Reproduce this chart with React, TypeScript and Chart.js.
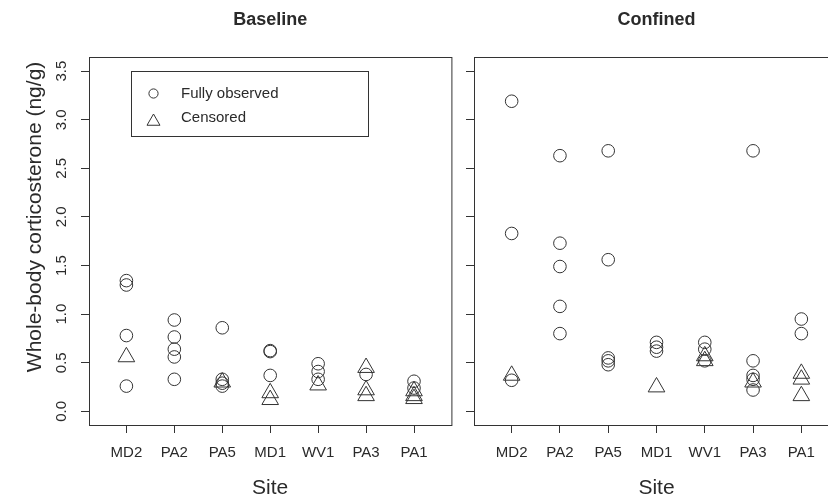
import React, { useEffect, useRef } from 'react';
import { Chart, registerables } from 'chart.js';

Chart.register(...registerables);

const FONT = '"Liberation Sans", Arial, Helvetica, sans-serif';
const INK = '#2a2a2a';
const LINE = '#333333';

const sites = ['MD2', 'PA2', 'PA5', 'MD1', 'WV1', 'PA3', 'PA1'];
const yTickValues = [0, 0.5, 1, 1.5, 2, 2.5, 3, 3.5];
const yAxisTitle = 'Whole-body corticosterone (ng/g)';
const xAxisTitle = 'Site';
const legendLabels = ['Fully observed', 'Censored'];

// Baseline panel values (per site, in order of `sites`)
const baselineObserved = [
  [1.345, 1.3, 0.78, 0.26],
  [0.94, 0.765, 0.64, 0.56, 0.33],
  [0.86, 0.33, 0.29, 0.26],
  [0.625, 0.615, 0.37],
  [0.49, 0.41, 0.33],
  [0.38],
  [0.31, 0.24],
];
const baselineCensored = [
  [0.56],
  [],
  [0.3],
  [0.19, 0.12],
  [0.27],
  [0.45, 0.22, 0.16],
  [0.21, 0.16, 0.13],
];

// Confined panel values
const confinedObserved = [
  [3.19, 1.83, 0.32],
  [2.63, 1.73, 1.49, 1.08, 0.8],
  [2.68, 1.56, 0.55, 0.52, 0.48],
  [0.71, 0.66, 0.62],
  [0.71, 0.64, 0.52],
  [2.68, 0.52, 0.37, 0.33, 0.22],
  [0.95, 0.8],
];
const confinedCensored = [
  [0.37],
  [],
  [],
  [0.25],
  [0.57, 0.52],
  [0.3],
  [0.39, 0.33, 0.16],
];

function toPoints(groups: number[][]) {
  const pts: { x: number; y: number }[] = [];
  groups.forEach((vals, i) => vals.forEach((v) => pts.push({ x: i + 1, y: v })));
  return pts;
}

const framePlugin = {
  id: 'frame',
  afterDatasetsDraw(chart: any) {
    const { ctx, chartArea: a } = chart;
    ctx.save();
    ctx.strokeStyle = LINE;
    ctx.lineWidth = 1;
    ctx.strokeRect(a.left + 0.5, a.top + 0.5, a.right - a.left, a.bottom - a.top);
    ctx.restore();
  },
};

const yLabelPlugin = {
  id: 'yLabels',
  afterDraw(chart: any, _args: any, opts: any) {
    if (!opts || !opts.show) return;
    const { ctx } = chart;
    const scale = chart.scales.y;
    ctx.save();
    ctx.fillStyle = INK;
    ctx.font = `15px ${FONT}`;
    ctx.textAlign = 'center';
    ctx.textBaseline = 'middle';
    for (const t of scale.ticks) {
      const y = scale.getPixelForValue(t.value);
      ctx.save();
      ctx.translate(opts.x, y);
      ctx.rotate(-Math.PI / 2);
      ctx.fillText(Number(t.value).toFixed(1), 0, 0);
      ctx.restore();
    }
    // axis title
    ctx.font = `21px ${FONT}`;
    ctx.save();
    ctx.translate(opts.titleX, scale.getPixelForValue(opts.titleAt));
    ctx.rotate(-Math.PI / 2);
    ctx.fillText(yAxisTitle, 0, 0);
    ctx.restore();
    ctx.restore();
  },
};

const legendBoxPlugin = {
  id: 'legendBox',
  afterDraw(chart: any, _args: any, opts: any) {
    if (!opts || !opts.show) return;
    const { ctx } = chart;
    ctx.save();
    ctx.strokeStyle = LINE;
    ctx.lineWidth = 1;
    ctx.strokeRect(131.5, 71.5, 237, 65);
    // circle symbol
    ctx.beginPath();
    ctx.arc(153.5, 93.5, 4.6, 0, Math.PI * 2);
    ctx.stroke();
    // triangle symbol
    const r = 7.5;
    const cx = 153.5;
    const cy = 121.5;
    ctx.beginPath();
    ctx.moveTo(cx, cy - r);
    ctx.lineTo(cx + r * Math.sin((2 * Math.PI) / 3), cy - r * Math.cos((2 * Math.PI) / 3));
    ctx.lineTo(cx + r * Math.sin((4 * Math.PI) / 3), cy - r * Math.cos((4 * Math.PI) / 3));
    ctx.closePath();
    ctx.stroke();
    ctx.fillStyle = INK;
    ctx.font = `15px ${FONT}`;
    ctx.textAlign = 'left';
    ctx.textBaseline = 'middle';
    ctx.fillText(legendLabels[0], 181, 94);
    ctx.fillText(legendLabels[1], 181, 118);
    ctx.restore();
  },
};

function makeConfig(p: {
  title: string;
  observed: number[][];
  censored: number[][];
  yWidth: number;
  padRight: number;
  showYText: boolean;
  showLegend: boolean;
}): any {
  const gridOpts = {
    drawOnChartArea: false,
    drawTicks: true,
    tickLength: 8,
    color: LINE,
    tickColor: LINE,
    lineWidth: 1,
  };
  return {
    type: 'scatter',
    data: {
      datasets: [
        {
          label: legendLabels[0],
          data: toPoints(p.observed),
          pointStyle: 'circle',
          pointRadius: 6.3,
          pointHoverRadius: 6.3,
          borderColor: LINE,
          backgroundColor: 'rgba(0,0,0,0)',
          pointBorderWidth: 1,
          borderWidth: 1,
        },
        {
          label: legendLabels[1],
          data: toPoints(p.censored),
          pointStyle: 'triangle',
          pointRadius: 9.6,
          pointHoverRadius: 9.6,
          borderColor: LINE,
          backgroundColor: 'rgba(0,0,0,0)',
          pointBorderWidth: 1,
          borderWidth: 1,
        },
      ],
    },
    options: {
      responsive: false,
      animation: false,
      events: [],
      devicePixelRatio: 1,
      layout: { padding: { left: 0, top: 0, right: p.padRight, bottom: 0 } },
      plugins: {
        legend: { display: false },
        tooltip: { enabled: false },
        title: {
          display: true,
          text: p.title,
          fullSize: false,
          color: INK,
          font: { family: FONT, size: 18, weight: 'bold' },
          padding: { top: 9.2, bottom: 26.2 },
        },
        yLabels: { show: p.showYText, x: 62, titleX: 35, titleAt: 2.0 },
        legendBox: { show: p.showLegend },
      },
      scales: {
        x: {
          type: 'linear',
          min: 0.22,
          max: 7.78,
          afterBuildTicks: (axis: any) => {
            axis.ticks = sites.map((_, i) => ({ value: i + 1 }));
          },
          afterFit: (axis: any) => {
            axis.height = 76;
          },
          ticks: {
            callback: (v: number) => sites[Math.round(v) - 1] ?? '',
            font: { family: FONT, size: 15 },
            color: INK,
            padding: 11,
            autoSkip: false,
            maxRotation: 0,
            minRotation: 0,
          },
          grid: gridOpts,
          border: { display: false },
          title: {
            display: true,
            text: xAxisTitle,
            color: INK,
            font: { family: FONT, size: 21 },
            padding: { top: 0, bottom: 0 },
          },
        },
        y: {
          type: 'linear',
          min: -0.14,
          max: 3.645,
          afterBuildTicks: (axis: any) => {
            axis.ticks = yTickValues.map((v) => ({ value: v }));
          },
          afterFit: (axis: any) => {
            axis.width = p.yWidth;
          },
          ticks: { display: false },
          grid: gridOpts,
          border: { display: false },
          title: { display: false },
        },
      },
    },
    plugins: [framePlugin, yLabelPlugin, legendBoxPlugin],
  };
}

export default function App() {
  const leftRef = useRef<HTMLCanvasElement>(null);
  const rightRef = useRef<HTMLCanvasElement>(null);

  useEffect(() => {
    const c1 = new Chart(
      leftRef.current as HTMLCanvasElement,
      makeConfig({
        title: 'Baseline',
        observed: baselineObserved,
        censored: baselineCensored,
        yWidth: 89,
        padRight: 10,
        showYText: true,
        showLegend: true,
      })
    );
    const c2 = new Chart(
      rightRef.current as HTMLCanvasElement,
      makeConfig({
        title: 'Confined',
        observed: confinedObserved,
        censored: confinedCensored,
        yWidth: 12,
        padRight: 13,
        showYText: false,
        showLegend: false,
      })
    );
    return () => {
      c1.destroy();
      c2.destroy();
    };
  }, []);

  return (
    <div
      style={{
        position: 'fixed',
        left: 0,
        top: 0,
        width: 828,
        height: 501,
        overflow: 'hidden',
        background: '#ffffff',
      }}
    >
      <canvas
        ref={leftRef}
        width={462}
        height={501}
        style={{ position: 'absolute', left: 0, top: 0, width: 462, height: 501 }}
      />
      <canvas
        ref={rightRef}
        width={390}
        height={501}
        style={{ position: 'absolute', left: 462, top: 0, width: 390, height: 501 }}
      />
    </div>
  );
}
